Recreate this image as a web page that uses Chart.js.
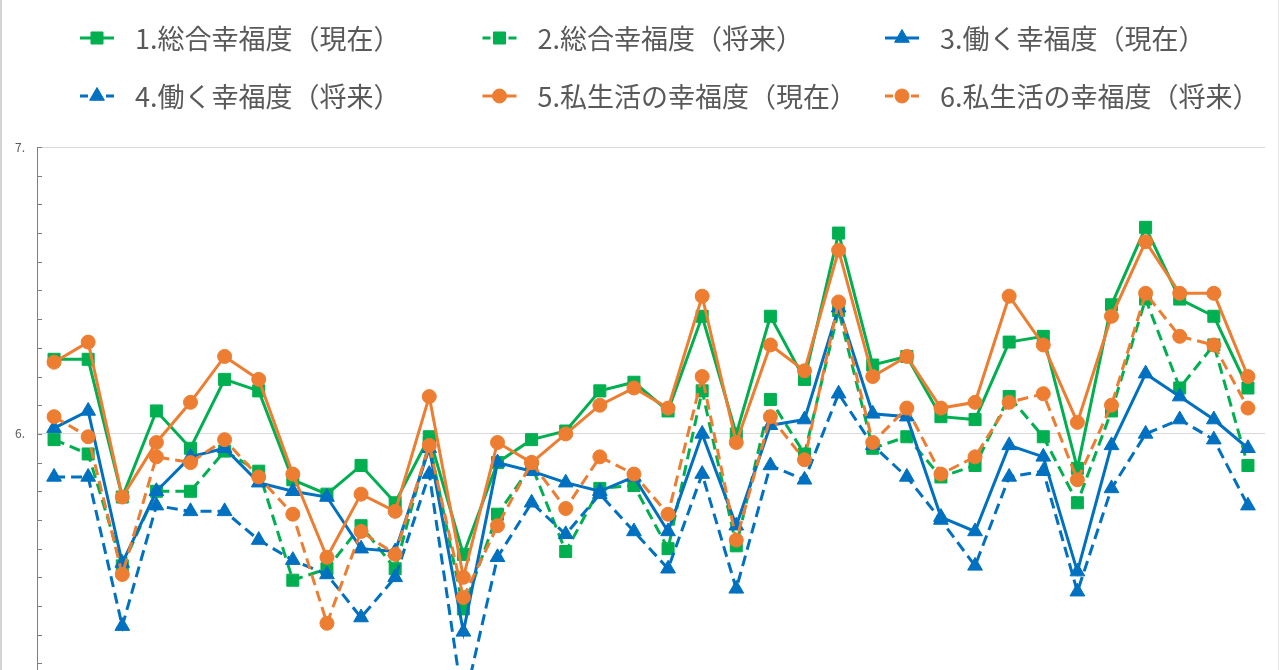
<!DOCTYPE html>
<html lang="ja">
<head>
<meta charset="utf-8">
<script src="https://cdn.jsdelivr.net/npm/chart.js@4.4.1/dist/chart.umd.min.js"></script>
<style>
html, body { margin: 0; padding: 0; background: #fff; overflow: hidden; }
#wrap { position: relative; width: 1280px; height: 740px; }
#edgeL { position: absolute; left: 0; top: 0; width: 2px; height: 670px; background: #d4d4d4; }
#edgeR { position: absolute; right: 1px; top: 0; width: 1px; height: 670px; background: #e8e8e8; }
</style>
</head>
<body>
<div id="wrap"><canvas id="canvas1"></canvas></div>
<div id="edgeL"></div>
<div id="edgeR"></div>
<script>
"use strict";

// categories (x axis is cut off in the picture, so just numbered)
let labels = ["1","2","3","4","5","6","7","8","9","10","11","12","13","14","15","16","17","18",
              "19","20","21","22","23","24","25","26","27","28","29","30","31","32","33","34","35","36"];

// series
let sogoNow = [6.26,6.26,5.78,6.08,5.95,6.19,6.15,5.84,5.79,5.89,5.76,5.99,5.58,5.90,5.98,6.01,6.15,6.18,
               6.08,6.41,6.00,6.41,6.19,6.70,6.24,6.27,6.06,6.05,6.32,6.34,5.88,6.45,6.72,6.47,6.41,6.16];
let sogoFut = [5.98,5.93,5.54,5.80,5.80,5.94,5.87,5.49,5.53,5.68,5.53,5.97,5.39,5.72,5.89,5.59,5.81,5.82,
               5.60,6.15,5.61,6.12,5.93,6.43,5.95,5.99,5.85,5.89,6.13,5.99,5.76,6.08,6.47,6.16,6.31,5.89];
let workNow = [6.02,6.08,5.55,5.80,5.92,5.95,5.83,5.80,5.78,5.60,5.59,5.95,5.31,5.90,5.87,5.83,5.80,5.85,
               5.66,6.00,5.68,6.03,6.05,6.44,6.07,6.06,5.71,5.66,5.96,5.92,5.52,5.96,6.21,6.13,6.05,5.95];
let workFut = [5.85,5.85,5.33,5.75,5.73,5.73,5.63,5.56,5.51,5.36,5.50,5.86,5.05,5.57,5.76,5.65,5.79,5.66,
               5.53,5.86,5.46,5.89,5.84,6.14,5.96,5.85,5.70,5.54,5.85,5.87,5.45,5.81,6.00,6.05,5.98,5.75];
let lifeNow = [6.25,6.32,5.78,5.97,6.11,6.27,6.19,5.86,5.57,5.79,5.73,6.13,5.50,5.97,5.90,6.00,6.10,6.16,
               6.09,6.48,5.97,6.31,6.22,6.64,6.20,6.27,6.09,6.11,6.48,6.31,6.04,6.41,6.67,6.49,6.49,6.20];
let lifeFut = [6.06,5.99,5.51,5.92,5.90,5.98,5.85,5.72,5.34,5.66,5.58,5.96,5.43,5.68,5.90,5.74,5.92,5.86,
               5.72,6.20,5.63,6.06,5.91,6.46,5.97,6.09,5.86,5.92,6.11,6.14,5.84,6.10,6.49,6.34,6.31,6.09];

let names = ["1.総合幸福度（現在）","2.総合幸福度（将来）","3.働く幸福度（現在）",
             "4.働く幸福度（将来）","5.私生活の幸福度（現在）","6.私生活の幸福度（将来）"];

// y axis
let yMin = 5;
let yMax = 7;
let yStep = 0.1;

const GREEN = "#00B050";
const BLUE = "#0070C0";
const ORANGE = "#ED7D31";
const TXT = "#595959";
const DASH = [11, 6];

Chart.defaults.font.family = "'Noto Sans CJK JP', 'Noto Sans', sans-serif";

function mkSet(label, data, color, style, radius, dashed, order)
{
    return {
        label: label,
        data: data,
        borderColor: color,
        backgroundColor: color,
        borderWidth: 3,
        borderDash: dashed ? DASH : [],
        pointStyle: style,
        pointRadius: radius,
        pointBorderWidth: 1,
        pointBorderColor: color,
        pointBackgroundColor: color,
        tension: 0,
        fill: false,
        order: order,
        dashed: dashed,
    };
}

// legend laid out in 3 equal columns like the office chart
const gridLegend = {
    id: "gridLegend",
    afterDraw(chart)
    {
        let ctx = chart.ctx;
        ctx.save();
        ctx.font = "27px 'Noto Sans CJK JP'";
        let sets = chart.data.datasets;
        let widths = sets.map(ds => 55 + ctx.measureText(ds.label).width);
        let cell = Math.max(...widths) + 28;
        sets.forEach((ds, i) => {
            let x = 80 + (i % 3) * cell;
            let y = 38 + Math.floor(i / 3) * 58;
            ctx.strokeStyle = ds.borderColor;
            ctx.lineWidth = 3;
            ctx.setLineDash([]);
            ctx.beginPath();
            if (ds.dashed) {
                ctx.moveTo(x, y); ctx.lineTo(x + 8, y);
                ctx.moveTo(x + 26, y); ctx.lineTo(x + 34, y);
            } else {
                ctx.moveTo(x, y); ctx.lineTo(x + 34, y);
            }
            ctx.stroke();
            ctx.fillStyle = ds.backgroundColor;
            ctx.lineWidth = 1;
            Chart.helpers.drawPoint(ctx, { pointStyle: ds.pointStyle, radius: ds.pointRadius, borderWidth: 1, rotation: 0 }, x + 17, y);
            ctx.fillStyle = TXT;
            ctx.textAlign = "left";
            ctx.textBaseline = "middle";
            ctx.fillText(ds.label, x + 55, y + 1);
        });
        ctx.restore();
    }
};

// small tick marks on the inside of the value axis
const innerTicks = {
    id: "innerTicks",
    afterDraw(chart)
    {
        let ys = chart.scales.y;
        let ctx = chart.ctx;
        ctx.save();
        ctx.strokeStyle = "#7f7f7f";
        ctx.lineWidth = 1;
        ctx.beginPath();
        ys.ticks.forEach(t => {
            let py = Math.round(ys.getPixelForValue(t.value)) + 0.5;
            ctx.moveTo(ys.right, py);
            ctx.lineTo(ys.right + 5, py);
        });
        ctx.stroke();
        ctx.restore();
    }
};

let isMajor = v => Math.abs(v - Math.round(v)) < 1e-6;

let canvas1 = document.querySelector("#canvas1");
let opts = {
    type: "line",
    data: {
        labels: labels,
        datasets: [
            mkSet(names[0], sogoNow, GREEN, "rect", 8.5, false, 5),
            mkSet(names[1], sogoFut, GREEN, "rect", 8.5, true, 4),
            mkSet(names[2], workNow, BLUE, "triangle", 8.5, false, 3),
            mkSet(names[3], workFut, BLUE, "triangle", 8.5, true, 2),
            mkSet(names[4], lifeNow, ORANGE, "circle", 7, false, 1),
            mkSet(names[5], lifeFut, ORANGE, "circle", 7, true, 0),
        ],
    },
    options: {
        responsive: true,
        maintainAspectRatio: false,
        animation: false,
        events: [],
        layout: { padding: { top: 147, right: 15, bottom: 16, left: 0 } },
        plugins: {
            legend: { display: false },
            tooltip: { enabled: false },
        },
        scales: {
            x: {
                type: "category",
                display: false,
                offset: true,
            },
            y: {
                min: yMin,
                max: yMax,
                afterFit(scale) { scale.width = 37; },
                ticks: {
                    stepSize: yStep,
                    autoSkip: false,
                    padding: 12,
                    color: TXT,
                    font: { size: 12 },
                    callback: v => isMajor(v) ? Math.round(v) + "." : "",
                },
                grid: {
                    drawTicks: false,
                    color: c => isMajor(c.tick.value) ? "#d9d9d9" : "rgba(0,0,0,0)",
                    lineWidth: 1,
                },
                border: { display: true, color: "#7f7f7f", width: 1 },
            },
        },
    },
    plugins: [gridLegend, innerTicks],
};

let chart1 = new Chart(canvas1, opts);
</script>
</body>
</html>
